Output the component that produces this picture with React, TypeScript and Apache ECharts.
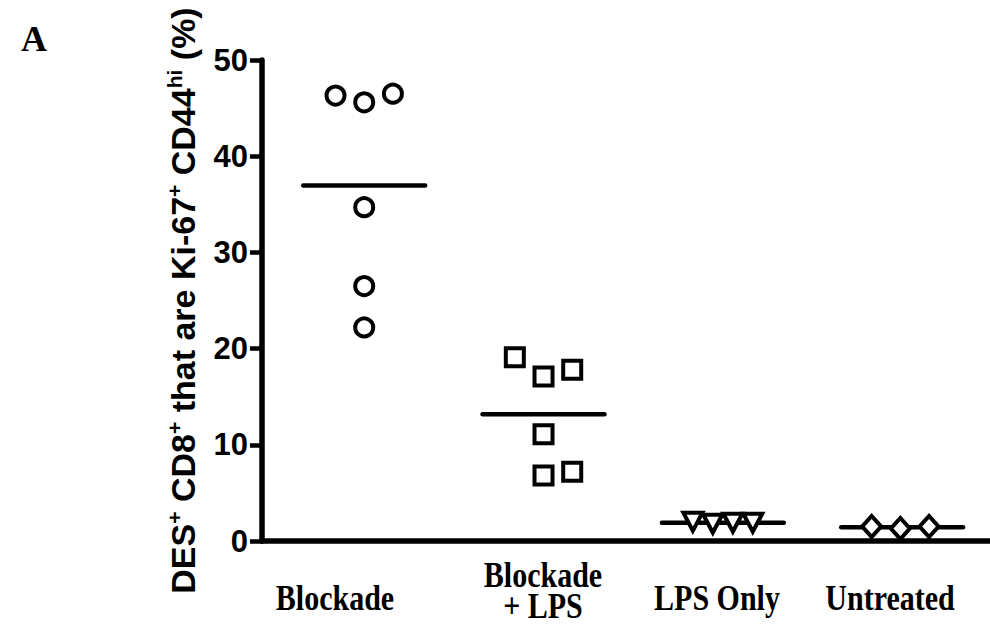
import React, { useEffect, useRef } from "react";
import * as echarts from "echarts";

// ---- data ----
const categories = ["Blockade", "Blockade\n+ LPS", "LPS Only", "Untreated"];
const blockade = [46.3, 45.6, 46.5, 34.7, 26.5, 22.2];
const blockadeLps = [19.1, 17.1, 17.8, 11.1, 6.8, 7.2];
const lpsOnly = [2.0, 1.8, 1.9, 1.9];
const untreated = [1.5, 1.3, 1.5];
const yTicks = [0, 10, 20, 30, 40, 50];
// horizontal jitter of each point (in category units)
const blockadeJitter = [-0.16, 0, 0.16, 0, 0, 0];
const blockadeLpsJitter = [-0.16, 0, 0.16, 0, 0, 0.16];
const lpsOnlyJitter = [-0.167, -0.056, 0.056, 0.167];
const untreatedJitter = [-0.17, -0.01, 0.15];

const groups = [
  { values: blockade, jitter: blockadeJitter, symbol: "circle", size: 18, rotate: 0 },
  { values: blockadeLps, jitter: blockadeLpsJitter, symbol: "rect", size: 18, rotate: 0 },
  { values: lpsOnly, jitter: lpsOnlyJitter, symbol: "triangle", size: [19, 18], rotate: 180 },
  { values: untreated, jitter: untreatedJitter, symbol: "diamond", size: [19, 21], rotate: 0 },
];

const mean = (a: number[]) => a.reduce((s, v) => s + v, 0) / a.length;

const SANS = "'Liberation Sans', Arial, sans-serif";
const SERIF = "'Liberation Serif', 'Times New Roman', serif";

export default function App() {
  const ref = useRef<HTMLDivElement>(null);
  useEffect(() => {
    if (!ref.current) return;
    const chart = echarts.init(ref.current, undefined, { renderer: "svg" });
    const series: any[] = [];
    groups.forEach((g, i) => {
      const m = mean(g.values);
      series.push({
        type: "line",
        data: [
          [i - 0.34, m],
          [i + 0.34, m],
        ],
        symbol: "none",
        lineStyle: { color: "#000", width: 4.5, cap: "round" },
        z: 2,
        silent: true,
      });
      series.push({
        type: "scatter",
        data: g.values.map((v, k) => [i + g.jitter[k], v]),
        symbol: g.symbol,
        symbolSize: g.size,
        symbolRotate: g.rotate,
        itemStyle: { color: "#fff", borderColor: "#000", borderWidth: 4, opacity: 1 },
        z: 3,
      });
    });

    const labelPos = [
      { x: 335, y: 597 },
      { x: 543, y: 590 },
      { x: 717, y: 597 },
      { x: 890, y: 597 },
    ];

    chart.setOption({
      animation: false,
      grid: { left: 262, right: 0, top: 60, bottom: 88 },
      xAxis: {
        type: "value",
        min: -0.57,
        max: 3.49,
        axisLine: { onZero: false, lineStyle: { color: "#000", width: 5.5 } },
        axisTick: { show: false },
        axisLabel: { show: false },
        splitLine: { show: false },
      },
      yAxis: {
        type: "value",
        min: yTicks[0],
        max: yTicks[yTicks.length - 1],
        interval: yTicks[1] - yTicks[0],
        axisLine: { show: true, onZero: false, lineStyle: { color: "#000", width: 5.5 } },
        axisTick: { show: true, length: 12, lineStyle: { color: "#000", width: 4.5 } },
        axisLabel: {
          margin: 14,
          color: "#000",
          fontFamily: SANS,
          fontWeight: "bold",
          fontSize: 31,
        },
        splitLine: { show: false },
        name: "{b|DES}{s|+}{b| CD8}{s|+}{b| that are Ki-67}{s|+}{b| CD44}{s|hi}{b| (%)}",
        nameLocation: "middle",
        nameRotate: 90,
        nameGap: 60,
        nameTextStyle: {
          rich: {
            b: { fontSize: 34, fontWeight: "bold", fontFamily: SANS, color: "#000", lineHeight: 38 },
            s: { fontSize: 21, fontWeight: "bold", fontFamily: SANS, color: "#000", lineHeight: 20, verticalAlign: "top" },
          },
        },
      },
      graphic: [
        {
          type: "text",
          x: 34,
          y: 39,
          style: { text: "A", font: `bold 36px ${SERIF}`, fill: "#000", align: "center", verticalAlign: "middle" },
        },
        ...categories.map((c, i) => ({
          type: "text",
          x: labelPos[i].x,
          y: labelPos[i].y,
          scaleY: 1.22,
          style: {
            text: c,
            font: `bold 30px ${SERIF}`,
            fill: "#000",
            align: "center",
            verticalAlign: "middle",
            lineHeight: 25,
          },
        })),
      ],
      series,
    });
    return () => chart.dispose();
  }, []);
  return <div ref={ref} style={{ width: 990, height: 629, position: "absolute", left: 0, top: 0 }} />;
}
